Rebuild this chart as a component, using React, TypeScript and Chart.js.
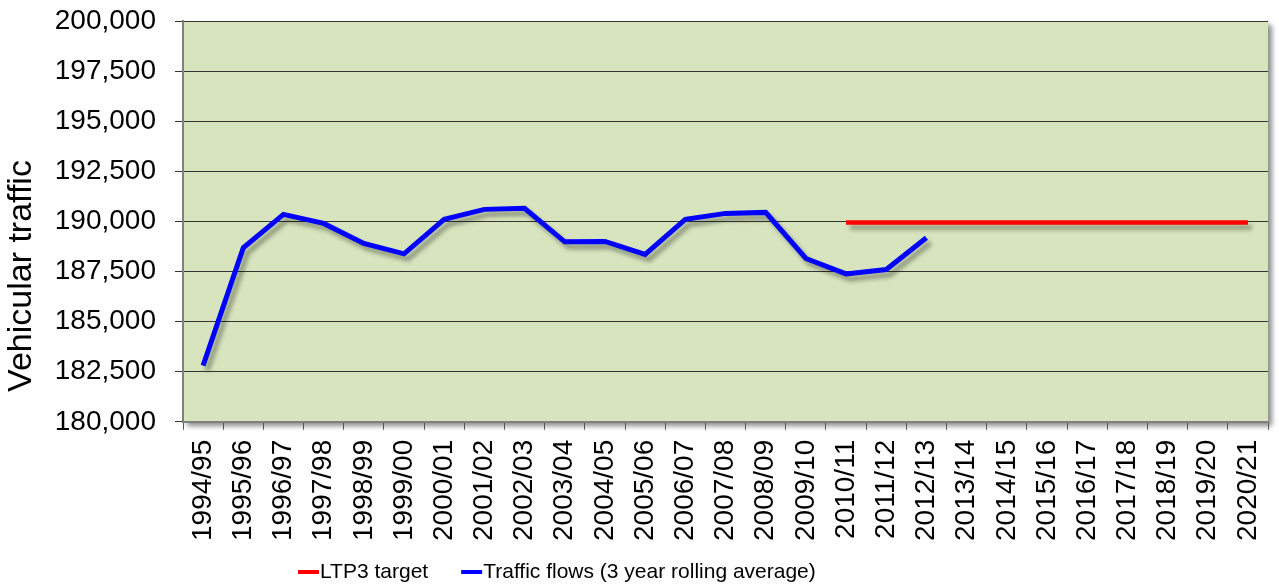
import React, { useEffect, useRef } from 'react';
import { Chart, registerables } from 'chart.js';

Chart.register(...registerables);

const categories = [
  '1994/95', '1995/96', '1996/97', '1997/98', '1998/99', '1999/00', '2000/01',
  '2001/02', '2002/03', '2003/04', '2004/05', '2005/06', '2006/07', '2007/08',
  '2008/09', '2009/10', '2010/11', '2011/12', '2012/13', '2013/14', '2014/15',
  '2015/16', '2016/17', '2017/18', '2018/19', '2019/20', '2020/21',
];

const trafficFlows: (number | null)[] = [
  182800, 188680, 190350, 189900, 188900, 188380, 190100, 190600, 190650,
  188980, 189000, 188350, 190100, 190400, 190450, 188150, 187380, 187600,
  189180, null, null, null, null, null, null, null, null,
];

const ltp3Target: (number | null)[] = [
  null, null, null, null, null, null, null, null, null, null, null, null,
  null, null, null, null, 189950, 189950, 189950, 189950, 189950, 189950,
  189950, 189950, 189950, 189950, 189950,
];

const yTitle = 'Vehicular traffic';
const seriesLabels = ['LTP3 target', 'Traffic flows (3 year rolling average)'];
const seriesColors = ['#FF0000', '#0000FF'];

const FONT = "'Liberation Sans', Arial, sans-serif";
const PLOT_BG = '#D7E4BD';

const plotBgPlugin = {
  id: 'plotBg',
  beforeDraw(chart: any) {
    const { ctx, chartArea: a } = chart;
    ctx.save();
    ctx.shadowColor = 'rgba(0,0,0,0.45)';
    ctx.shadowBlur = 5;
    ctx.shadowOffsetX = 4;
    ctx.shadowOffsetY = 4;
    ctx.fillStyle = PLOT_BG;
    ctx.fillRect(a.left, a.top, a.right - a.left, a.bottom - a.top);
    ctx.restore();
  },
};

const lineShadowPlugin = {
  id: 'lineShadow',
  beforeDatasetsDraw(chart: any) {
    const ctx = chart.ctx;
    ctx.save();
    ctx.shadowColor = 'rgba(0,0,0,0.35)';
    ctx.shadowBlur = 4;
    ctx.shadowOffsetX = 4;
    ctx.shadowOffsetY = 5;
  },
  afterDatasetsDraw(chart: any) {
    chart.ctx.restore();
  },
};

const titleLegendPlugin = {
  id: 'titleLegend',
  afterDraw(chart: any) {
    const ctx = chart.ctx;
    ctx.save();
    // y-axis title
    ctx.translate(22, 276);
    ctx.rotate(-Math.PI / 2);
    ctx.font = `34px ${FONT}`;
    ctx.fillStyle = '#000';
    ctx.textAlign = 'center';
    ctx.textBaseline = 'middle';
    ctx.fillText(yTitle, 0, 0);
    ctx.restore();

    // legend
    ctx.save();
    ctx.font = `21px ${FONT}`;
    ctx.textBaseline = 'middle';
    ctx.textAlign = 'left';
    let x = 298;
    const y = 572;
    chart.data.datasets.forEach((ds: any) => {
      ctx.strokeStyle = ds.borderColor;
      ctx.lineWidth = 4;
      ctx.beginPath();
      ctx.moveTo(x, y);
      ctx.lineTo(x + 21, y);
      ctx.stroke();
      x += 22;
      ctx.fillStyle = '#000';
      ctx.fillText(ds.label, x, y);
      x += ctx.measureText(ds.label).width + 33;
    });
    ctx.restore();
  },
};

export default function App() {
  const ref = useRef<HTMLCanvasElement | null>(null);

  useEffect(() => {
    document.body.style.margin = '0';
    const canvas = ref.current;
    if (!canvas) return;
    const chart = new Chart(canvas, {
      type: 'line',
      data: {
        labels: categories,
        datasets: [
          {
            label: seriesLabels[0],
            data: ltp3Target,
            borderColor: seriesColors[0],
            backgroundColor: seriesColors[0],
            borderWidth: 4.5,
            pointRadius: 0,
            tension: 0,
            spanGaps: false,
          },
          {
            label: seriesLabels[1],
            data: trafficFlows,
            borderColor: seriesColors[1],
            backgroundColor: seriesColors[1],
            borderWidth: 5,
            pointRadius: 0,
            tension: 0,
            spanGaps: false,
          },
        ],
      },
      options: {
        animation: false,
        responsive: false,
        maintainAspectRatio: false,
        layout: { padding: { left: 55, right: 11, top: 21, bottom: 35 } },
        plugins: {
          legend: { display: false },
          tooltip: { enabled: false },
        },
        scales: {
          x: {
            offset: true,
            afterFit: (s: any) => {
              s.paddingLeft = 0;
              s.paddingRight = 0;
            },
            grid: {
              drawOnChartArea: false,
              offset: true,
              tickLength: 8,
              color: '#555',
              lineWidth: 1,
            },
            border: { color: '#808080', width: 2 },
            ticks: {
              minRotation: 90,
              maxRotation: 90,
              autoSkip: false,
              padding: 10,
              color: '#000',
              font: { size: 28, family: FONT },
            },
          },
          y: {
            min: 180000,
            max: 200000,
            afterFit: (s: any) => {
              s.width = 128;
              s.paddingTop = 0;
              s.paddingBottom = 0;
            },
            grid: { color: '#333', lineWidth: 1, tickLength: 8 },
            border: { color: '#808080', width: 2 },
            ticks: {
              stepSize: 2500,
              padding: 19,
              color: '#000',
              font: { size: 28, family: FONT },
              callback: (v: any) => Number(v).toLocaleString('en-US'),
            },
          },
        },
      },
      plugins: [plotBgPlugin, lineShadowPlugin, titleLegendPlugin],
    });
    return () => chart.destroy();
  }, []);

  return (
    <div style={{ width: 1279, height: 586 }}>
      <canvas ref={ref} width={1279} height={586} style={{ display: 'block' }} />
    </div>
  );
}
